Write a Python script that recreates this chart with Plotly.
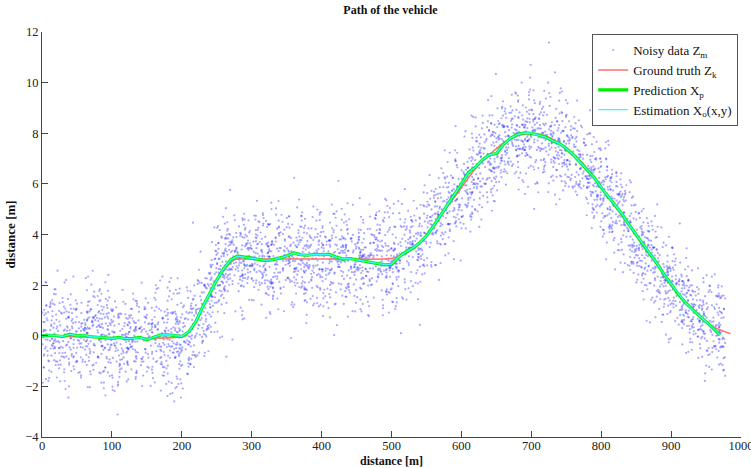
import numpy as np
import plotly.graph_objects as go

# Ground truth path
gt_x = [0, 205, 215, 230, 245, 260, 275, 285, 490, 500, 520, 540, 560, 580, 600, 620, 640, 660,
        680, 700, 720, 740, 760, 780, 800, 820, 840, 860, 880, 900, 920, 940, 960, 985]
gt_y = [0, 0, 0.35, 1.15, 1.95, 2.6, 3.0, 3.03, 3.03, 3.05, 3.25, 3.65, 4.3, 5.1, 5.85, 6.6, 7.15, 7.6,
        7.9, 8.0, 7.9, 7.6, 7.2, 6.6, 5.85, 5.1, 4.35, 3.55, 2.8, 2.05, 1.35, 0.75, 0.35, 0.08]

# Prediction Xp (every 10 m)
pred_x = list(range(0, 980, 10))
pred_y = [0.0, 0.02, 0.0, -0.03, 0.06, 0.0, 0.02, -0.04, -0.06, -0.08,
          -0.1, -0.06, -0.12, -0.1, -0.06, -0.16, -0.06, 0.04, 0.04, 0.02,
          -0.03, 0.15, 0.55, 1.15, 1.7, 2.2, 2.65, 3.0, 3.15, 3.1,
          3.05, 3.02, 2.97, 3.0, 3.07, 3.15, 3.28, 3.2, 3.18, 3.22,
          3.2, 3.22, 3.12, 3.03, 3.05, 3.0, 2.97, 2.92, 2.88, 2.8,
          2.82, 3.1, 3.3, 3.45, 3.66, 3.95, 4.33, 4.75, 5.12, 5.55,
          6.0, 6.45, 6.65, 6.95, 7.15, 7.2, 7.55, 7.8, 7.95, 8.02,
          8.0, 7.93, 7.85, 7.7, 7.6, 7.4, 7.15, 6.85, 6.55, 6.25,
          5.85, 5.5, 5.12, 4.8, 4.38, 3.98, 3.6, 3.22, 2.85, 2.42,
          2.05, 1.65, 1.32, 1.05, 0.78, 0.55, 0.3, 0.02]

# Estimation Xo(x,y) (every 10 m)
est_x = list(range(0, 980, 10))
est_y = [0.0, 0.02, 0.01, -0.02, 0.05, 0.0, 0.02, -0.04, -0.05, -0.08,
         -0.1, -0.07, -0.11, -0.1, -0.07, -0.15, -0.06, 0.03, 0.04, 0.02,
         -0.02, 0.16, 0.56, 1.15, 1.7, 2.2, 2.65, 3.0, 3.14, 3.1,
         3.05, 3.02, 2.98, 3.0, 3.07, 3.15, 3.27, 3.2, 3.18, 3.21,
         3.2, 3.21, 3.12, 3.04, 3.05, 3.0, 2.97, 2.93, 2.88, 2.81,
         2.83, 3.1, 3.3, 3.46, 3.66, 3.95, 4.33, 4.75, 5.12, 5.55,
         6.0, 6.44, 6.66, 6.95, 7.15, 7.21, 7.55, 7.8, 7.95, 8.01,
         8.0, 7.93, 7.85, 7.71, 7.6, 7.4, 7.16, 6.85, 6.55, 6.25,
         5.86, 5.5, 5.13, 4.8, 4.38, 3.98, 3.6, 3.23, 2.85, 2.42,
         2.05, 1.66, 1.32, 1.05, 0.78, 0.55, 0.31, 0.02]

noise_std = 1.0
n_meas = 3900
rng = np.random.default_rng(7)
zm_x = np.sort(rng.uniform(0, 978, n_meas))
zm_y = np.interp(zm_x, gt_x, gt_y) + rng.normal(0, noise_std, n_meas)

x_ticks = [0, 100, 200, 300, 400, 500, 600, 700, 800, 900, 1000]
y_ticks = [-4, -2, 0, 2, 4, 6, 8, 10, 12]

serif = "Liberation Serif, Times New Roman, serif"

fig = go.Figure()
fig.add_trace(go.Scatter(x=zm_x, y=zm_y, mode="markers", name="Noisy data Z<sub>m</sub>",
                         marker=dict(size=2.2, color="rgba(30,30,255,0.38)", line=dict(width=0))))
fig.add_trace(go.Scatter(x=gt_x, y=gt_y, mode="lines", name="Ground truth Z<sub>k</sub>",
                         line=dict(color="#ff7070", width=1.5, shape="spline", smoothing=0.6)))
fig.add_trace(go.Scatter(x=pred_x, y=pred_y, mode="lines", name="Prediction X<sub>p</sub>",
                         line=dict(color="#00ee00", width=3.2)))
fig.add_trace(go.Scatter(x=est_x, y=est_y, mode="lines", name="Estimation X<sub>o</sub>(x,y)",
                         line=dict(color="#33ffff", width=1.3)))

axis_common = dict(showgrid=False, zeroline=False, showline=True, linecolor="#444", linewidth=1,
                   ticks="inside", ticklen=6, tickcolor="#444", mirror=False, automargin=False,
                   tickfont=dict(family=serif, size=12.5, color="#222"))

fig.update_layout(
    width=751, height=468,
    margin=dict(l=42, r=10, t=32, b=31),
    paper_bgcolor="white", plot_bgcolor="white",
    title=dict(text="<b>Path of the vehicle</b>", x=0.52, xanchor="center", y=0.978, yanchor="middle",
               font=dict(family=serif, size=12, color="#111")),
    xaxis=dict(range=[0, 1000], tickvals=x_ticks, ticklabeloverflow="allow", ticklabelstandoff=-3,
               **axis_common),
    yaxis=dict(range=[-4, 12], tickvals=y_ticks,
               title=dict(text="<b>distance [m]</b>", standoff=6, font=dict(family=serif, size=13, color="#111")),
               **axis_common),
    legend=dict(x=0.996, y=0.995, xanchor="right", yanchor="top", bgcolor="white",
                bordercolor="#555", borderwidth=1, itemwidth=30, tracegroupgap=0,
                font=dict(family=serif, size=13, color="#111")),
    showlegend=True,
    annotations=[dict(text="<b>distance [m]</b>", xref="paper", yref="paper", x=0.5, y=0,
                      xanchor="center", yanchor="top", yshift=-15, showarrow=False,
                      font=dict(family=serif, size=12, color="#111"))],
)

fig.write_html("out.html")
